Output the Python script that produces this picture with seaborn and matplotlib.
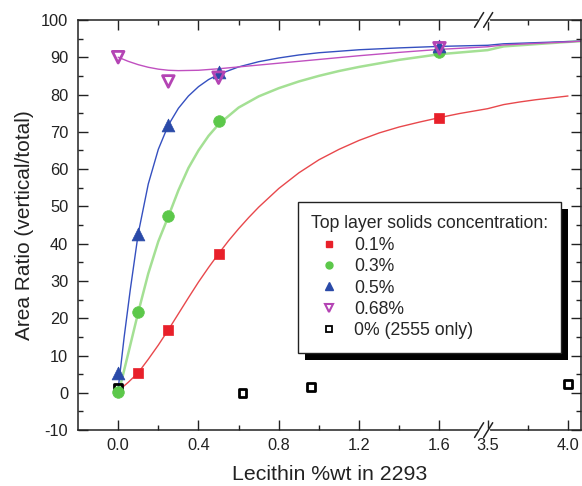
import numpy as np
import matplotlib
matplotlib.use('Agg')
import matplotlib.pyplot as plt
import matplotlib.transforms as mtransforms
from matplotlib.lines import Line2D
from matplotlib.patches import Rectangle
import seaborn as sns

sns.set_style("ticks")
plt.rcParams['font.family'] = ['Liberation Sans', 'DejaVu Sans']
plt.rcParams['axes.unicode_minus'] = False

# measured points
x_01 = [0.1, 0.25, 0.5, 1.6]
y_01 = [5.4, 16.9, 37.3, 73.8]
x_03 = [0.0, 0.1, 0.25, 0.5, 1.6]
y_03 = [0.3, 21.6, 47.3, 73.0, 91.3]
x_05 = [0.0, 0.1, 0.25, 0.5, 1.6]
y_05 = [5.3, 42.7, 71.8, 86.0, 93.0]
x_068 = [0.0, 0.25, 0.5, 1.6]
y_068 = [90.0, 83.5, 84.5, 92.4]
x_0 = [0.0, 0.62, 0.96, 4.0]
y_0 = [1.3, 0.0, 1.6, 2.4]

# fitted curves
cx_01 = [0.0, 0.05, 0.1, 0.15, 0.2, 0.25, 0.3, 0.35, 0.4, 0.45, 0.5, 0.55, 0.6, 0.65, 0.7, 0.8,
         0.9, 1.0, 1.1, 1.2, 1.3, 1.4, 1.5, 1.6, 1.7, 1.84, 3.6, 3.7, 3.8, 3.9, 4.0]
cy_01 = [0.5, 2.8, 5.4, 9.0, 12.8, 16.9, 21.2, 25.5, 29.7, 33.6, 37.3, 40.8, 44.0, 47.0, 49.8, 54.8,
         59.0, 62.5, 65.3, 67.7, 69.7, 71.3, 72.6, 73.8, 74.9, 76.2, 77.3, 78.0, 78.6, 79.1, 79.6]
cx_03 = [0.0, 0.05, 0.1, 0.15, 0.2, 0.25, 0.3, 0.35, 0.4, 0.45, 0.5, 0.6, 0.7, 0.8, 0.9, 1.0,
         1.1, 1.2, 1.4, 1.6, 1.84, 3.6, 3.8, 4.0, 4.08]
cy_03 = [-0.5, 10.5, 21.6, 32.0, 40.6, 47.3, 54.3, 60.3, 65.0, 68.9, 72.0, 76.5, 79.5, 81.7, 83.5, 85.0,
         86.3, 87.4, 89.3, 90.8, 91.9, 92.9, 93.5, 94.1, 94.3]
cx_05 = [0.0, 0.03, 0.06, 0.1, 0.15, 0.2, 0.25, 0.3, 0.35, 0.4, 0.45, 0.5, 0.6, 0.7, 0.8, 0.9,
         1.0, 1.2, 1.4, 1.6, 1.84, 3.6, 3.8, 4.0, 4.08]
cy_05 = [1.0, 15.0, 27.5, 42.7, 56.0, 65.3, 71.8, 76.3, 79.6, 82.1, 84.0, 85.4, 87.4, 88.8, 89.8, 90.6,
         91.2, 92.0, 92.5, 92.9, 93.2, 93.6, 93.9, 94.2, 94.3]
cx_068 = [0.0, 0.05, 0.1, 0.15, 0.2, 0.25, 0.3, 0.4, 0.5, 0.6, 0.7, 0.8, 1.0, 1.2, 1.4, 1.6,
          1.84, 3.6, 3.8, 4.0, 4.08]
cy_068 = [90.0, 88.9, 88.0, 87.3, 86.8, 86.5, 86.4, 86.5, 86.9, 87.4, 87.9, 88.4, 89.4, 90.4, 91.3, 92.1,
          92.8, 93.3, 93.7, 94.1, 94.3]

legend_title = 'Top layer solids concentration:'
labels = ['0.1%', '0.3%', '0.5%', '0.68%', '0% (2555 only)']

red = '#e8202a'
green = '#5cc84a'
blue = '#2a4aa8'
purple = '#b444b4'
ink = '#222222'

# broken x axis: 0..1.84 then 3.5..4.08 (compressed)
XB = 1.84
K = 0.8


def fwd(x):
    x = np.asarray(x, dtype=float)
    return np.where(x < 2.6, x, XB + (x - 3.5) * K)


def inv(y):
    y = np.asarray(y, dtype=float)
    return np.where(y < XB, y, 3.5 + (y - XB) / K)


fig = plt.figure(figsize=(5.82, 4.86), dpi=100)
ax = fig.add_axes([0.134, 0.115, 0.864, 0.844])

# curves
sns.lineplot(x=cx_01, y=cy_01, color='#e8484c', lw=1.0, sort=False, estimator=None, ax=ax)
sns.lineplot(x=cx_03, y=cy_03, color='#a4e094', lw=1.8, sort=False, estimator=None, ax=ax)
sns.lineplot(x=cx_05, y=cy_05, color='#3550c0', lw=1.0, sort=False, estimator=None, ax=ax)
sns.lineplot(x=cx_068, y=cy_068, color='#c050c0', lw=1.0, sort=False, estimator=None, ax=ax)

# points
sns.scatterplot(x=x_0, y=y_0, marker='s', s=30, color='black', facecolor='none',
                edgecolor='black', linewidth=2, zorder=3, ax=ax)
sns.scatterplot(x=x_01, y=y_01, marker='s', s=52, color=red, edgecolor=red, linewidth=0.5, zorder=3, ax=ax)
sns.scatterplot(x=x_03, y=y_03, marker='o', s=70, color=green, edgecolor=green, linewidth=0.5, zorder=3, ax=ax)
sns.scatterplot(x=x_05, y=y_05, marker='^', s=85, color=blue, edgecolor=blue, linewidth=0.5, zorder=3, ax=ax)
sns.scatterplot(x=x_068, y=y_068, marker='v', s=70, color=purple, facecolor='none',
                edgecolor=purple, linewidth=2, zorder=3, ax=ax)

ax.set_xscale('function', functions=(fwd, inv))
ax.set_xlim(-0.2, 4.08)
ax.set_ylim(-10, 100)

ax.set_xticks([0.0, 0.4, 0.8, 1.2, 1.6, 3.5, 4.0])
ax.set_xticklabels(['0.0', '0.4', '0.8', '1.2', '1.6', '3.5', '4.0'])
ax.set_xticks([0.2, 0.6, 1.0, 1.4, 3.75], minor=True)
ax.set_yticks(np.arange(-10, 101, 10))
ax.set_yticks(np.arange(-5, 100, 10), minor=True)
ax.tick_params(which='both', direction='in', top=True, right=True, width=1.0, color=ink)
ax.tick_params(which='major', length=7, labelsize=11.8, labelcolor=ink)
ax.tick_params(which='minor', length=3.5)
ax.tick_params(axis='x', pad=6)
ax.tick_params(axis='y', pad=7)
for sp in ax.spines.values():
    sp.set_linewidth(1.1)
    sp.set_color(ink)

ax.set_xlabel('Lecithin %wt in 2293', fontsize=15.3, color=ink, labelpad=8)
ax.set_ylabel('Area Ratio (vertical/total)', fontsize=15.0, color=ink, labelpad=5)

# axis break marks
xa = (fwd(3.5) - (-0.2)) / (fwd(4.08) - (-0.2)) - 0.008
gw = 0.009
for yb in (0.0, 1.0):
    ax.plot([xa - gw, xa + gw], [yb, yb], transform=ax.transAxes, color='white',
            lw=2.5, clip_on=False, zorder=6)
    for dx in (-gw, gw):
        ax.plot([xa + dx - 0.009, xa + dx + 0.009], [yb - 0.018, yb + 0.018],
                transform=ax.transAxes, color=ink, lw=1.1, clip_on=False, zorder=7)

# legend
handles = [
    Line2D([], [], ls='none', marker='s', ms=4.5, color=red),
    Line2D([], [], ls='none', marker='o', ms=5, color=green),
    Line2D([], [], ls='none', marker='^', ms=5.5, color=blue),
    Line2D([], [], ls='none', marker='v', ms=5.5, mfc='none', mec=purple, mew=1.5),
    Line2D([], [], ls='none', marker='s', ms=4.5, mfc='none', mec='black', mew=1.3),
]
leg = ax.legend(handles, labels, title=legend_title, loc='upper left',
                bbox_to_anchor=(0.437, 0.556), borderaxespad=0, fontsize=12.7,
                title_fontsize=12.7, frameon=True, fancybox=False, edgecolor=ink,
                framealpha=1, handlelength=2.05, handletextpad=0.4, labelspacing=0.25,
                borderpad=0.75, alignment='left')
leg.get_frame().set_linewidth(1.0)
leg.set_zorder(8)

fig.canvas.draw()
bb = leg.get_window_extent()
shadow = Rectangle((bb.x0 + 7, bb.y0 - 7), bb.width, bb.height, facecolor='black',
                   edgecolor='none', transform=mtransforms.IdentityTransform(),
                   clip_on=False, zorder=7.5)
ax.add_patch(shadow)

fig.savefig('out.png', dpi=100)
